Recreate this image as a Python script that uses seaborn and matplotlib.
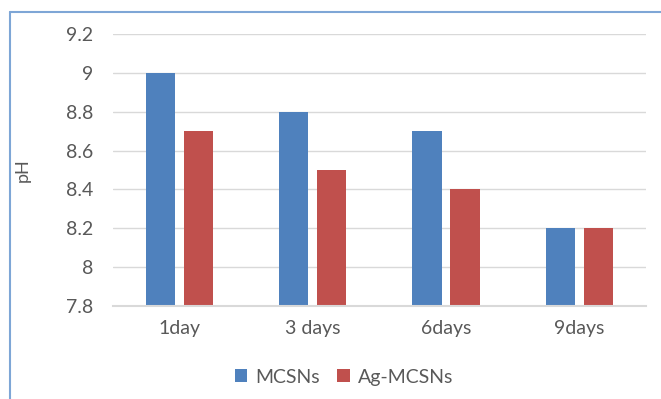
import matplotlib
matplotlib.use("Agg")
import matplotlib.pyplot as plt
import matplotlib.lines as mlines
import seaborn as sns
import pandas as pd

categories = ["1day", "3 days", "6days", "9days"]
mcsns = [9.0, 8.8, 8.7, 8.2]
ag_mcsns = [8.7, 8.5, 8.4, 8.2]
series_names = ["MCSNs", "Ag-MCSNs"]
y_ticks = [7.8, 8.0, 8.2, 8.4, 8.6, 8.8, 9.0, 9.2]
y_tick_labels = ["7.8", "8", "8.2", "8.4", "8.6", "8.8", "9", "9.2"]

df = pd.DataFrame({
    "day": categories * 2,
    "pH": mcsns + ag_mcsns,
    "sample": [series_names[0]] * 4 + [series_names[1]] * 4,
})

sns.set_theme(style="white")
plt.rcParams["font.family"] = ["Lato", "DejaVu Sans"]
text_color = "#595959"

fig = plt.figure(figsize=(6.61, 3.99), dpi=100)
ax = fig.add_axes([0.171, 0.233, 0.806, 0.682])

sns.barplot(data=df, x="day", y="pH", hue="sample", ax=ax,
            palette=["#4F81BD", "#C0504D"], width=0.57, gap=0.23,
            errorbar=None, saturation=1, legend=True, linewidth=0)

ax.set_ylim(7.8, 9.2)
ax.set_yticks(y_ticks)
ax.set_yticklabels(y_tick_labels)
ax.yaxis.grid(True, color="#D9D9D9", linewidth=1)
ax.set_axisbelow(True)
for s in ["left", "right", "top"]:
    ax.spines[s].set_visible(False)
ax.spines["bottom"].set_color("#D9D9D9")
ax.spines["bottom"].set_linewidth(1.5)
ax.tick_params(axis="both", length=0, labelsize=14, colors=text_color)
ax.tick_params(axis="y", pad=14)
ax.tick_params(axis="x", pad=10)
ax.set_xlabel("")
ax.set_ylabel("pH", fontsize=13, color=text_color)
ax.yaxis.set_label_coords(-0.155, 0.5)

handles, labels = ax.get_legend_handles_labels()
ax.legend(handles, labels, loc="center", bbox_to_anchor=(0.52, 0.055),
          bbox_transform=fig.transFigure, ncol=2, frameon=False,
          fontsize=14, handlelength=0.65, handleheight=0.65,
          handletextpad=0.4, columnspacing=0.9, labelcolor=text_color)

# chart frame (left and top edges)
fig.add_artist(mlines.Line2D([10 / 661, 10 / 661], [0, 1 - 12 / 399],
                             transform=fig.transFigure, color="#7EA6D6", lw=1.5))
fig.add_artist(mlines.Line2D([10 / 661, 1], [1 - 12 / 399, 1 - 12 / 399],
                             transform=fig.transFigure, color="#7EA6D6", lw=1.5))

fig.savefig("out.png", dpi=100)
